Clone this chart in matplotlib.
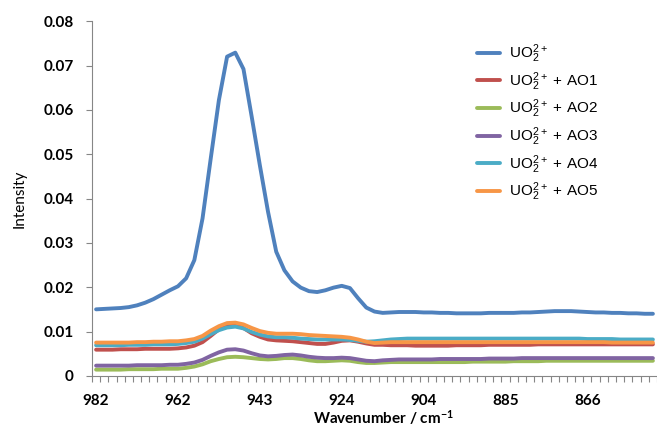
"""
Raman spectra of uranyl with and without AO ligands.
"""
import numpy as np
import matplotlib
matplotlib.use("Agg")
import matplotlib.pyplot as plt

plt.rcParams['font.family'] = ['Lato', 'DejaVu Sans']
plt.rcParams['mathtext.default'] = 'regular'

# category axis labels (every 10th point)
tick_labels = ['982', '962', '943', '924', '904', '885', '866']

uo2 = [0.0150, 0.0151, 0.0152, 0.0153, 0.0155, 0.0159, 0.0165, 0.0173, 0.0183, 0.0193,
       0.0202, 0.0220, 0.0261, 0.0355, 0.0490, 0.0622, 0.0720, 0.0729, 0.0692, 0.0585,
       0.0475, 0.0370, 0.0280, 0.0238, 0.0213, 0.0199, 0.0191, 0.0189, 0.0193, 0.0199,
       0.0203, 0.0198, 0.0175, 0.0154, 0.0145, 0.0142, 0.0143, 0.0144, 0.0144, 0.0144,
       0.0143, 0.0143, 0.0142, 0.0142, 0.0141, 0.0141, 0.0141, 0.0141, 0.0142, 0.0142,
       0.0142, 0.0142, 0.0143, 0.0143, 0.0144, 0.0145, 0.0146, 0.0146, 0.0146, 0.0145,
       0.0144, 0.0143, 0.0143, 0.0142, 0.0142, 0.0141, 0.0141, 0.0140, 0.0140]

ao1 = [0.0059, 0.0059, 0.0059, 0.0060, 0.0060, 0.0060, 0.0061, 0.0061, 0.0061, 0.0061,
       0.0062, 0.0064, 0.0068, 0.0076, 0.0090, 0.0105, 0.0113, 0.0115, 0.0108, 0.0096,
       0.0088, 0.0082, 0.0080, 0.0079, 0.0078, 0.0076, 0.0074, 0.0072, 0.0072, 0.0075,
       0.0079, 0.0080, 0.0077, 0.0073, 0.0070, 0.0070, 0.0069, 0.0069, 0.0069, 0.0068,
       0.0068, 0.0068, 0.0068, 0.0068, 0.0069, 0.0069, 0.0069, 0.0069, 0.0070, 0.0070,
       0.0070, 0.0070, 0.0070, 0.0070, 0.0071, 0.0071, 0.0071, 0.0071, 0.0071, 0.0071,
       0.0071, 0.0071, 0.0071, 0.0071, 0.0071, 0.0071, 0.0071, 0.0071, 0.0071]

ao2 = [0.0014, 0.0014, 0.0014, 0.0014, 0.0015, 0.0015, 0.0015, 0.0015, 0.0016, 0.0016,
       0.0016, 0.0018, 0.0021, 0.0026, 0.0033, 0.0038, 0.0042, 0.0043, 0.0042, 0.0040,
       0.0038, 0.0037, 0.0038, 0.0040, 0.0040, 0.0038, 0.0035, 0.0033, 0.0033, 0.0034,
       0.0035, 0.0034, 0.0031, 0.0029, 0.0029, 0.0030, 0.0031, 0.0031, 0.0031, 0.0031,
       0.0031, 0.0031, 0.0031, 0.0031, 0.0031, 0.0031, 0.0032, 0.0032, 0.0032, 0.0032,
       0.0032, 0.0033, 0.0033, 0.0033, 0.0033, 0.0034, 0.0034, 0.0034, 0.0034, 0.0034,
       0.0034, 0.0034, 0.0034, 0.0034, 0.0034, 0.0034, 0.0034, 0.0034, 0.0034]

ao3 = [0.0023, 0.0023, 0.0023, 0.0023, 0.0023, 0.0024, 0.0024, 0.0024, 0.0024, 0.0025,
       0.0025, 0.0027, 0.0030, 0.0036, 0.0045, 0.0053, 0.0059, 0.0060, 0.0057, 0.0051,
       0.0046, 0.0044, 0.0045, 0.0047, 0.0048, 0.0046, 0.0043, 0.0041, 0.0040, 0.0040,
       0.0041, 0.0040, 0.0037, 0.0034, 0.0033, 0.0035, 0.0036, 0.0037, 0.0037, 0.0037,
       0.0037, 0.0037, 0.0038, 0.0038, 0.0038, 0.0038, 0.0038, 0.0038, 0.0039, 0.0039,
       0.0039, 0.0039, 0.0040, 0.0040, 0.0040, 0.0040, 0.0040, 0.0040, 0.0040, 0.0040,
       0.0040, 0.0040, 0.0040, 0.0040, 0.0040, 0.0040, 0.0040, 0.0040, 0.0040]

ao4 = [0.0069, 0.0069, 0.0069, 0.0069, 0.0070, 0.0070, 0.0070, 0.0071, 0.0071, 0.0071,
       0.0072, 0.0074, 0.0077, 0.0084, 0.0094, 0.0103, 0.0109, 0.0111, 0.0107, 0.0099,
       0.0093, 0.0089, 0.0087, 0.0087, 0.0086, 0.0084, 0.0083, 0.0082, 0.0082, 0.0082,
       0.0082, 0.0081, 0.0079, 0.0077, 0.0078, 0.0080, 0.0082, 0.0083, 0.0084, 0.0084,
       0.0084, 0.0084, 0.0084, 0.0084, 0.0084, 0.0084, 0.0084, 0.0084, 0.0084, 0.0084,
       0.0084, 0.0084, 0.0084, 0.0084, 0.0084, 0.0084, 0.0084, 0.0084, 0.0084, 0.0084,
       0.0083, 0.0083, 0.0083, 0.0083, 0.0082, 0.0082, 0.0082, 0.0082, 0.0082]

ao5 = [0.0075, 0.0075, 0.0075, 0.0075, 0.0075, 0.0076, 0.0076, 0.0077, 0.0077, 0.0078,
       0.0078, 0.0080, 0.0083, 0.0090, 0.0102, 0.0112, 0.0119, 0.0120, 0.0116, 0.0108,
       0.0101, 0.0097, 0.0095, 0.0095, 0.0095, 0.0094, 0.0092, 0.0091, 0.0090, 0.0089,
       0.0088, 0.0086, 0.0082, 0.0077, 0.0074, 0.0075, 0.0076, 0.0076, 0.0076, 0.0076,
       0.0076, 0.0076, 0.0076, 0.0076, 0.0076, 0.0076, 0.0076, 0.0076, 0.0076, 0.0076,
       0.0076, 0.0076, 0.0076, 0.0076, 0.0076, 0.0076, 0.0076, 0.0076, 0.0076, 0.0076,
       0.0076, 0.0076, 0.0076, 0.0075, 0.0075, 0.0075, 0.0075, 0.0075, 0.0075]

series = [
    (uo2, r'UO$_2^{2+}$', '#4F81BD'),
    (ao1, r'UO$_2^{2+}$ + AO1', '#C0504D'),
    (ao2, r'UO$_2^{2+}$ + AO2', '#9BBB59'),
    (ao3, r'UO$_2^{2+}$ + AO3', '#8064A2'),
    (ao4, r'UO$_2^{2+}$ + AO4', '#4BACC6'),
    (ao5, r'UO$_2^{2+}$ + AO5', '#F79646'),
]

fig = plt.figure(figsize=(6.57, 4.32), dpi=100)
ax = fig.add_axes([0.14, 0.13, 0.86, 0.821])

n = len(uo2)
x = np.arange(n)
for vals, label, color in series:
    ax.plot(x, vals, color=color, lw=2.8, label=label, solid_capstyle='round')

ax.set_xlim(-0.5, n - 0.5)
ax.set_ylim(0, 0.08)
ax.set_yticks(np.arange(0, 0.081, 0.01))
ax.set_yticklabels(['0'] + ['%.2f' % v for v in np.arange(0.01, 0.081, 0.01)])

ax.set_xticks(np.arange(0, 10 * len(tick_labels), 10))
ax.set_xticklabels(tick_labels)
ax.set_xticks(np.arange(-0.5, n, 1), minor=True)
ax.tick_params(axis='x', which='major', length=0, pad=13)
ax.tick_params(axis='x', which='minor', length=4.5, color='#868686', width=0.8)
ax.tick_params(axis='y', length=4, color='#868686', width=0.8, pad=9)
for lab in ax.get_xticklabels() + ax.get_yticklabels():
    lab.set_fontweight('bold')
    lab.set_fontsize(11)

for side in ['top', 'right']:
    ax.spines[side].set_visible(False)
for side in ['left', 'bottom']:
    ax.spines[side].set_color('#868686')
    ax.spines[side].set_linewidth(0.8)

ax.set_ylabel('Intensity', fontsize=11)
ax.yaxis.set_label_coords(-0.115, 0.5)
fig.text(383 / 657, 1 - 418 / 432, r'Wavenumber / cm$^{-1}$', fontsize=11,
         fontweight='bold', ha='center', va='center')

leg = ax.legend(loc='upper left', bbox_to_anchor=(0.657, 0.979), frameon=False,
                handlelength=1.5, labelspacing=0.33, handletextpad=0.6,
                prop={'family': ['Liberation Sans', 'DejaVu Sans'], 'size': 11})

fig.savefig('out.png', dpi=100)
